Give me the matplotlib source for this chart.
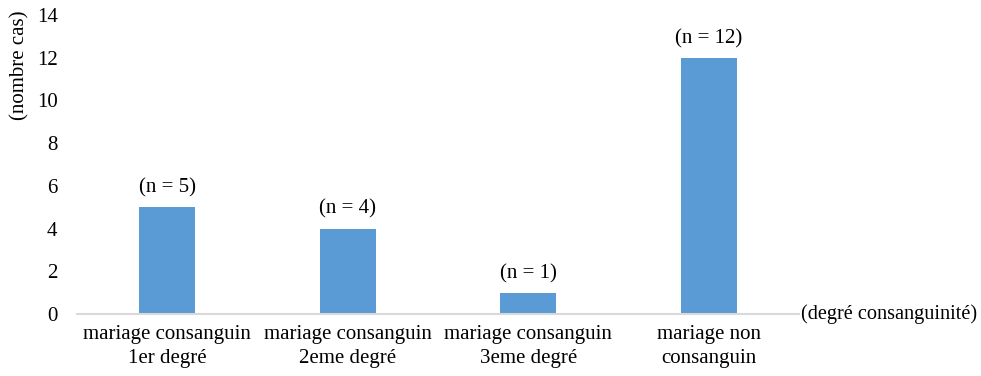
import matplotlib.pyplot as plt
import numpy as np

plt.rcParams['font.family'] = ['Liberation Serif', 'DejaVu Serif']

categories = ["mariage consanguin\n1er degré", "mariage consanguin\n2eme degré",
              "mariage consanguin\n3eme degré", "mariage non\nconsanguin"]
values = [5, 4, 1, 12]
labels = ["(n = 5)", "(n = 4)", "(n = 1)", "(n = 12)"]

fig = plt.figure(figsize=(9.81, 3.76), dpi=100)
ax = fig.add_axes([77 / 981, 0.165, 0.736, 0.795])

x = np.arange(len(categories))
ax.bar(x, values, width=0.31, color='#5b9bd5')
for xi, v, lab in zip(x, values, labels):
    ax.text(xi, v + 0.45, lab, ha='center', va='bottom', fontsize=15)

ax.set_xlim(-0.5, len(categories) - 0.5)
ax.set_ylim(0, 14)
ax.set_yticks(range(0, 15, 2))
ax.set_xticks(x)
ax.set_xticklabels(categories, fontsize=15, linespacing=1.35)
ax.tick_params(axis='both', length=0, labelsize=15)
ax.tick_params(axis='y', pad=14)
ax.tick_params(axis='x', pad=8)
for s in ['top', 'right', 'left']:
    ax.spines[s].set_visible(False)
ax.spines['bottom'].set_color('#d9d9d9')
ax.spines['bottom'].set_linewidth(1.5)

fig.text(20 / 981, 1 - 10 / 376, "(nombre cas)", rotation=90, ha='center', va='top', fontsize=15)
fig.text(801 / 981, 0.165, "(degré consanguinité)", ha='left', va='center', fontsize=14.6)

fig.savefig("out.png", dpi=100)
